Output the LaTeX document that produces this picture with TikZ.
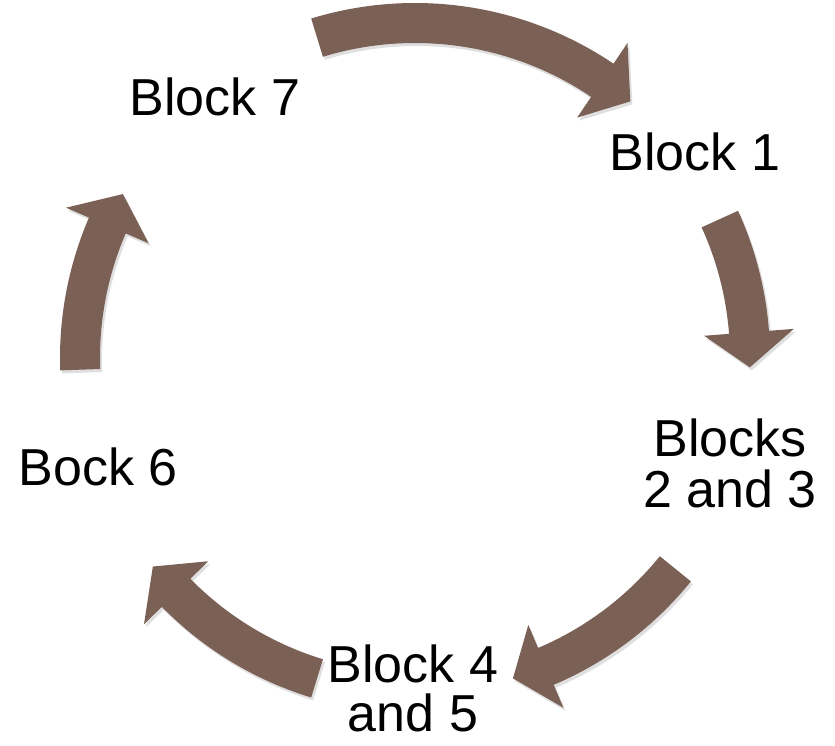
\documentclass[tikz,border=0pt]{standalone}
\usepackage{fontspec}
\setmainfont{Liberation Sans}
\usepackage{tikz}
\usetikzlibrary{calc,shadows}
\usepackage{xcolor}
\definecolor{arrowbrown}{RGB}{122,96,85}
\tikzstyle{blocktext} = [align=center, anchor=base, inner sep=0pt, font=\fontsize{52}{51}\selectfont]
\tikzstyle{cyclearrow} = [fill=arrowbrown, drop shadow={opacity=0.25, shadow xshift=2pt, shadow yshift=-3pt}]

\begin{document}
\begin{tikzpicture}[x=1pt, y=1pt]
    \useasboundingbox (0,0) rectangle (835,-745);
    \coordinate (ctr) at (415,-358);

    \node (b7) [blocktext] at (215,-115) {Block 7};
    \node (b1) [blocktext] at (695,-170) {Block 1};
    \node (b23) [blocktext] at (730,-507) {Blocks\\2 and 3};
    \node (b45) [blocktext, font=\fontsize{52}{49}\selectfont] at (413,-731) {Block 4\\and 5};
    \node (b6) [blocktext] at (98,-485) {Bock 6};

    % arrows: tail angle / tip angle, clockwise round (ctr)
    \foreach \tail/\tip in {107/50, 24.5/-1.6, -39/-73, 253/218.5, 182/150.7} {
        \pgfmathsetmacro{\hb}{\tip+6}
        \fill [cyclearrow] ($(ctr)+(\tail:355pt)$) arc[start angle=\tail, end angle=\hb, radius=355pt]
            -- ($(ctr)+(\hb:380pt)$) -- ($(ctr)+(\tip:335pt)$) -- ($(ctr)+(\hb:290pt)$)
            -- ($(ctr)+(\hb:315pt)$) arc[start angle=\hb, end angle=\tail, radius=315pt] -- cycle;
    }
\end{tikzpicture}
\end{document}
